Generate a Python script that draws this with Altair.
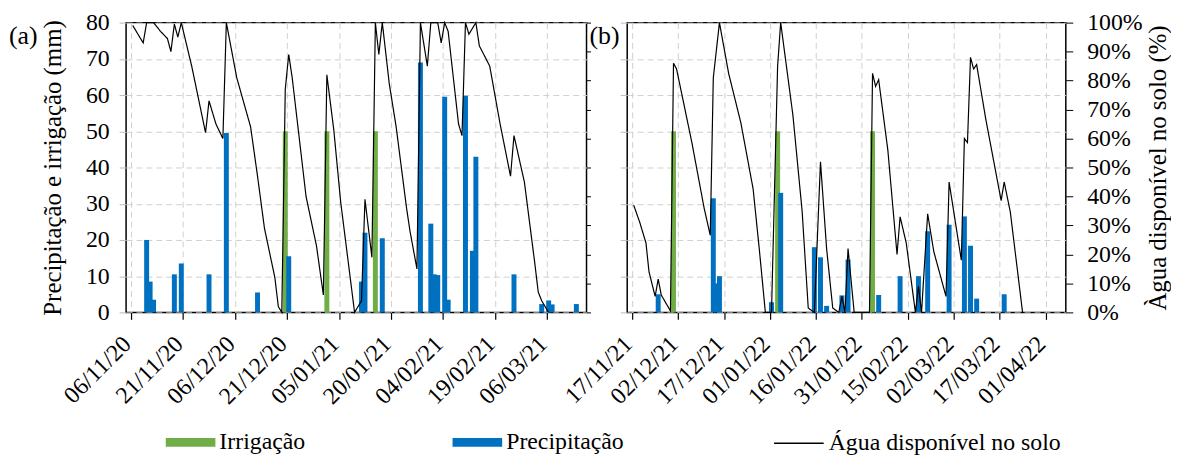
import altair as alt
import pandas as pd

FONT = "Liberation Serif, Times New Roman, Times, serif"
GREEN = "#70AD47"
BLUE = "#0070C0"
GRID = "#d0d0d0"

SERIES = ["Irrigação", "Precipitação", "Água disponível no solo"]
PANEL_TAGS = ["(a)", "(b)"]
Y_LEFT_TITLE = "Precipitação e irrigação (mm)"
Y_RIGHT_TITLE = "Àgua disponível no solo (%)"

# ---------- Panel (a): 2020/21 season (days counted from 06/11/20) ----------
a_start = "2020-11-06"
a_end = "2021-03-16"
a_ticks = ["2020-11-06", "2020-11-21", "2020-12-06", "2020-12-21", "2021-01-05",
           "2021-01-20", "2021-02-04", "2021-02-19", "2021-03-06"]
a_prec_day = [4, 5, 6, 12, 14, 22, 27, 36, 45, 66, 67, 72, 83, 86, 87, 88, 90, 91,
              96, 98, 99, 110, 118, 120, 121, 128]
a_prec_mm = [20, 8.5, 3.5, 10.5, 13.5, 10.5, 49.5, 5.5, 15.5, 8.5, 22, 20.5, 69, 24.5,
             10.5, 10.3, 59.5, 3.5, 59.8, 17, 43, 10.5, 2.3, 3.3, 2.2, 2.3]
a_irr_day = [44, 56, 70]
a_irr_mm = [50, 50, 50]
a_water_day = [0, 3, 4, 6, 8, 10, 11, 12, 13, 14, 17, 21, 22, 24, 26, 27, 30, 34, 36, 38,
               41, 42, 43, 44, 45, 46, 50, 53, 55, 56, 58, 60, 64, 66, 67, 69, 70, 71, 72, 74,
               76, 79, 80, 82, 83, 85, 86, 88, 89, 90, 91, 94, 95, 96, 97, 99, 100, 103, 106, 109,
               110, 113, 116, 117, 118, 120]
a_water_pct = [99, 93, 100, 100, 97, 94.5, 90, 99.5, 95, 100, 85, 62, 73, 65, 60, 100, 81, 64, 47, 29,
               12, 2, 0, 77, 89, 81, 40, 23, 6, 82, 63, 38, 0, 4, 39, 19, 100, 89, 100, 79,
               64, 36, 28, 15, 100, 85, 100, 100, 93, 100, 97, 65, 61, 100, 96, 100, 92, 85, 65, 47,
               61, 45, 17, 7, 4, 0]

# ---------- Panel (b): 2021/22 season (days counted from 17/11/21) ----------
b_start = "2021-11-17"
b_end = "2022-04-06"
b_ticks = ["2021-11-17", "2021-12-02", "2021-12-17", "2022-01-01", "2022-01-16",
           "2022-01-31", "2022-02-15", "2022-03-02", "2022-03-17", "2022-04-01"]
b_prec_day = [8, 26, 27, 28, 45, 48, 59, 61, 63, 68, 70, 80, 87, 93, 96, 103, 108, 110, 112, 121]
b_prec_mm = [5, 31.5, 8, 10, 2.8, 33, 18, 15.2, 1.8, 4.7, 14.6, 4.8, 10, 10, 22.4, 24.2, 26.5,
             18.4, 3.8, 5]
b_irr_day = [13, 47, 78]
b_irr_mm = [50, 50, 50]
b_water_day = [0, 2, 4, 5, 7, 8, 9, 12, 13, 14, 19, 23, 25, 26, 28, 31, 35, 39, 41, 43,
               45, 47, 48, 52, 55, 57, 59, 61, 63, 65, 67, 68, 69, 70, 72, 77, 78, 79, 80, 83,
               86, 87, 89, 92, 93, 94, 96, 98, 102, 103, 107, 108, 109, 110, 111, 112, 115, 120, 121, 123,
               127]
b_water_pct = [37, 31, 24, 14, 5.5, 11.5, 6, 0.5, 86, 84, 58.6, 36, 26.6, 81, 100, 82.5, 65.4, 42.6, 22, 0,
               0, 85, 100, 68, 35, 1.5, 0, 52, 22, 1.5, 0, 5.5, 0, 22, 0, 0, 82.5, 78, 80.3, 56,
               20, 33, 24, 0, 9, 0, 34, 21, 5.5, 45, 18, 60, 58.6, 88, 84, 85.5, 66.6, 38.6, 45, 34.6,
               0]


def dt(s):
    y, m, d = (int(v) for v in s.split("-"))
    return alt.DateTime(year=y, month=m, date=d, utc=True)


def stamps(start, days):
    base = pd.Timestamp(start)
    return [(base + pd.Timedelta(hours=24 * d + 12)).strftime("%Y-%m-%dT%H:%M:%SZ") for d in days]


bar_legend = alt.Legend(
    title=None, orient="none", legendX=40, legendY=398, direction="horizontal",
    columnPadding=148, padding=0, symbolSize=2500, labelOffset=4,
    symbolType="M-1,-0.18H1V0.18H-1Z", symbolStrokeWidth=0, symbolOpacity=1,
    labelFont=FONT, labelFontSize=24, labelColor="black", labelLimit=400,
)
line_legend = alt.Legend(
    title=None, orient="none", legendX=652, legendY=398, direction="horizontal",
    padding=0, symbolSize=2500, labelOffset=4, symbolType="stroke",
    symbolStrokeColor="black", symbolStrokeWidth=1.5,
    labelFont=FONT, labelFontSize=24, labelColor="black", labelLimit=400,
)
color = alt.Color("serie:N", scale=alt.Scale(domain=SERIES[:2], range=[GREEN, BLUE]),
                  legend=bar_legend)
dash = alt.StrokeDash("serie:N", scale=alt.Scale(domain=SERIES[2:], range=[[1, 0]]),
                      legend=line_legend)


def panel(start, end, ticks, prec_day, prec_mm, irr_day, irr_mm, w_day, w_pct,
          width, first, tag, tag_x):
    bars = pd.DataFrame({
        "date": stamps(start, irr_day) + stamps(start, prec_day),
        "mm": irr_mm + prec_mm,
        "serie": [SERIES[0]] * len(irr_day) + [SERIES[1]] * len(prec_day),
    })
    water = pd.DataFrame({"date": stamps(start, w_day), "pct": w_pct, "serie": SERIES[2]})

    x = alt.X("date:T", title=None,
              scale=alt.Scale(type="utc", domain=[dt(start), dt(end)]),
              axis=alt.Axis(values=[dt(t) for t in ticks], format="%d/%m/%y",
                            labelAngle=315, labelAlign="right", labelBaseline="middle",
                            labelFontSize=24, labelPadding=21, labelOffset=-4,
                            labelFont=FONT,
                            tickSize=7, tickColor="black", tickWidth=1.2,
                            grid=True, gridDash=[6, 4], gridColor=GRID, domain=False,
                            labelOverlap=False))
    mm_axis = alt.Axis(values=list(range(0, 81, 10)), grid=True, gridDash=[6, 4],
                       gridColor=GRID, tickColor="#bbbbbb", tickSize=7, domain=False,
                       labels=first, labelFontSize=24, labelPadding=10, labelFont=FONT,
                       title=Y_LEFT_TITLE if first else None,
                       titleFont=FONT, titleFontSize=25, titlePadding=20)
    bar_layer = alt.Chart(bars).mark_bar(size=5).encode(
        x=x,
        y=alt.Y("mm:Q", scale=alt.Scale(domain=[0, 80], nice=False), axis=mm_axis),
        color=color,
    )
    if first:
        pct_axis = alt.Axis(orient="right", values=list(range(0, 101, 10)), labels=False,
                            title=None, tickSize=4, tickColor="black", grid=False, domain=False)
    else:
        pct_axis = alt.Axis(orient="right", values=list(range(0, 101, 10)),
                            labelExpr="datum.value + '%'", labelFontSize=24, labelPadding=14,
                            labelFont=FONT,
                            tickSize=7, tickColor="black", grid=False, domain=False,
                            title=Y_RIGHT_TITLE, titleFont=FONT,
                            titleFontSize=25, titleAngle=270, titleBaseline="top",
                            titlePadding=3)
    line_layer = alt.Chart(water).mark_line(strokeWidth=1.2, color="black").encode(
        x=x,
        y=alt.Y("pct:Q", scale=alt.Scale(domain=[0, 100], nice=False), axis=pct_axis),
        strokeDash=dash,
    )
    tag_layer = alt.Chart(pd.DataFrame({"tag": [tag]})).mark_text(
        align="left", baseline="middle", fontSize=26, font=FONT, color="black"
    ).encode(text="tag:N", x=alt.value(tag_x), y=alt.value(14))
    return alt.layer(bar_layer, line_layer, tag_layer).resolve_scale(y="independent").properties(
        width=width, height=292)


pa = panel(a_start, a_end, a_ticks, a_prec_day, a_prec_mm, a_irr_day, a_irr_mm,
           a_water_day, a_water_pct, 464, True, PANEL_TAGS[0], -118)
pb = panel(b_start, b_end, b_ticks, b_prec_day, b_prec_mm, b_irr_day, b_irr_mm,
           b_water_day, b_water_pct, 442, False, PANEL_TAGS[1], -38)

chart = alt.hconcat(pa, pb, spacing=41, bounds="flush").properties(
    padding={"left": 0, "top": 0, "right": 0, "bottom": 0}
).configure_view(stroke="black", strokeWidth=1.5).configure_axis(
    labelFont=FONT, titleFont=FONT, labelColor="black", titleColor="black",
    titleFontWeight="normal"
).configure_legend(labelFont=FONT)

chart.save("out.html", embed_options={"renderer": "svg", "actions": False})
